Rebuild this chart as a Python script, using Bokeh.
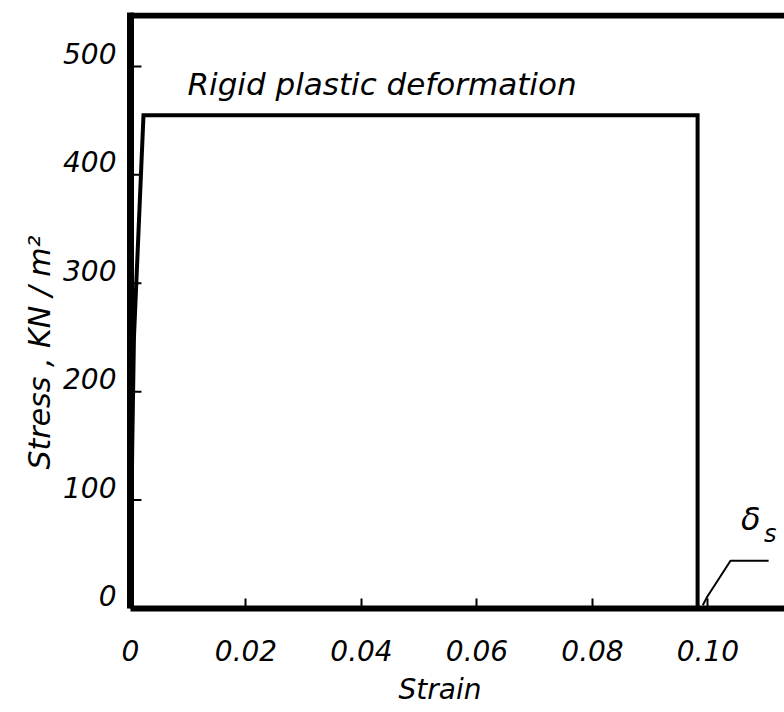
from bokeh.plotting import figure
from bokeh.models import Range1d, FixedTicker, Span, Label, Title
from bokeh.embed import file_html
from bokeh.resources import INLINE

# ---- data ----
curve_strain = [0.0, 0.0003, 0.0006, 0.00225, 0.0982, 0.0982]
curve_stress = [0.0, 150.0, 250.0, 455.0, 455.0, 0.0]

leader_strain = [0.1105, 0.1039, 0.0999, 0.0991]
leader_stress = [44.0, 44.0, 11.0, 3.0]

x_ticks = [0.0, 0.02, 0.04, 0.06, 0.08, 0.10]
x_tick_labels = ["0", "0.02", "0.04", "0.06", "0.08", "0.10"]
y_ticks = [0, 100, 200, 300, 400, 500]
y_tick_labels = ["0", "100", "200", "300", "400", "500"]

frame_top_stress = 547.0

FONT = "DejaVu Sans"
X_END = 0.11325
Y_END = 549.7
LABEL_SHIFT = 12.0          # y tick labels sit a little above their ticks
TICK_LEN = 0.0019           # inward tick length in strain units

p = figure(width=784, height=712, output_backend="svg", toolbar_location=None,
           x_range=Range1d(0, X_END), y_range=Range1d(0, Y_END),
           min_border_left=130, min_border_right=0, min_border_top=12,
           min_border_bottom=103)
p.extra_y_ranges = {"lab": Range1d(-LABEL_SHIFT, Y_END - LABEL_SHIFT)}
p.outline_line_color = None
p.grid.visible = False
p.background_fill_color = "white"
p.border_fill_color = "white"

# x axis
p.xaxis.ticker = FixedTicker(ticks=x_ticks)
p.xaxis.major_label_overrides = {t: l for t, l in zip(x_ticks, x_tick_labels)}
p.xaxis.axis_line_width = 6
p.xaxis.major_tick_in = 10
p.xaxis.major_tick_out = 0
p.xaxis.major_tick_line_width = 2
p.xaxis.minor_tick_line_color = None
p.xaxis.major_label_text_font = FONT
p.xaxis.major_label_text_font_style = "italic"
p.xaxis.major_label_text_font_size = "28px"
p.xaxis.major_label_text_color = "black"
p.xaxis.major_label_standoff = 31

# y axis (labels on a slightly shifted range, ticks drawn below as segments)
p.yaxis.y_range_name = "lab"
p.yaxis.ticker = FixedTicker(ticks=y_ticks)
p.yaxis.major_label_overrides = {t: l for t, l in zip(y_ticks, y_tick_labels)}
p.yaxis.major_label_standoff = 14
p.yaxis.major_label_orientation = "horizontal"
p.yaxis.major_label_text_font = FONT
p.yaxis.major_label_text_font_style = "italic"
p.yaxis.major_label_text_font_size = "28px"
p.yaxis.major_label_text_color = "black"
p.yaxis.axis_line_width = 7
p.yaxis.major_tick_in = 0
p.yaxis.major_tick_out = 0
p.yaxis.minor_tick_line_color = None

# axis titles as side titles (they can be shifted along the axis)
p.add_layout(Title(text="Stress ,  KN / m²", align="left", offset=139,
                   standoff=8, text_font=FONT, text_font_style="italic",
                   text_font_size="30px", text_color="black"), "left")
p.add_layout(Title(text="Strain", align="left", offset=268, standoff=14,
                   text_font=FONT, text_font_style="italic",
                   text_font_size="28px", text_color="black"), "below")

# inward y ticks
p.segment(x0=[0.0] * (len(y_ticks) - 1), y0=y_ticks[1:],
          x1=[TICK_LEN] * (len(y_ticks) - 1), y1=y_ticks[1:],
          line_color="black", line_width=2)

# top frame line
p.add_layout(Span(location=frame_top_stress, dimension="width",
                  line_color="black", line_width=6))

# curve
p.line(curve_strain, curve_stress, line_color="black", line_width=4,
       line_join="miter")

# leader line
p.line(leader_strain, leader_stress, line_color="black", line_width=2)

# texts
p.add_layout(Label(x=0.00987, y=484, text="Rigid plastic deformation",
                   text_font=FONT, text_font_style="italic",
                   text_font_size="31px", text_baseline="alphabetic",
                   text_align="left", text_color="black"))
p.add_layout(Label(x=0.1074, y=83, text="δ", text_font=FONT,
                   text_font_style="italic", text_font_size="32px",
                   text_align="center", text_baseline="middle",
                   text_color="black"))
p.add_layout(Label(x=0.1108, y=69, text="s", text_font=FONT,
                   text_font_style="italic", text_font_size="24px",
                   text_align="center", text_baseline="middle",
                   text_color="black"))

open("out.html", "w").write(file_html(p, INLINE))
